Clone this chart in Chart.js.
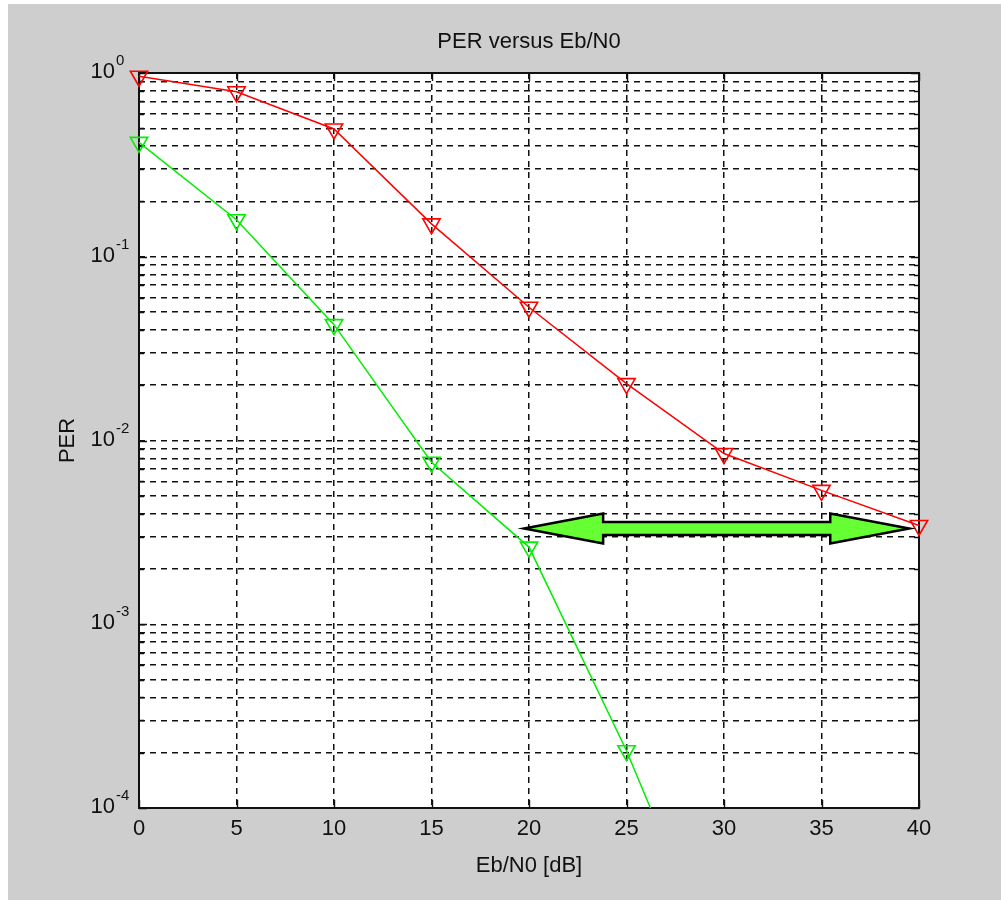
<!DOCTYPE html>
<html>
<head>
<meta charset="utf-8">
<title>PER versus Eb/N0</title>
<script src="https://cdn.jsdelivr.net/npm/chart.js@4.4.1/dist/chart.umd.min.js"></script>
<style>
  html, body { margin: 0; padding: 0; background: #fff; }
  #wrap { width: 1001px; height: 900px; }
</style>
</head>
<body>
<div id="wrap"><canvas id="chart" width="1001" height="900"></canvas></div>
<script>
// Eb/N0 [dB]
const ebn0 = [0, 5, 10, 15, 20, 25, 30, 35, 40];
const perRed = [0.96, 0.79, 0.496, 0.151, 0.0531, 0.0204, 0.00849, 0.00535, 0.00345];
// green curve leaves the axes below 1e-4 shortly after 25 dB
const ebn0Green = [0, 5, 10, 15, 20, 25, 30];
const perGreen = [0.419, 0.159, 0.0427, 0.00762, 0.00263, 0.000205, 0.000011];

// axis ticks
const xTicks = [0, 5, 10, 15, 20, 25, 30, 35, 40];
const yDecades = [1e-4, 1e-3, 1e-2, 1e-1, 1];
const yExponents = ["-4", "-3", "-2", "-1", "0"];
const yMultipliers = [1, 2, 3, 4, 5, 6, 7, 8, 9];

// double arrow between the curves (gain at PER ~ 3.3e-3)
const arrowFrom = 19.75;
const arrowTo = 39.5;
const arrowPer = 0.00332;

const yTicks = [];
yDecades.slice(0, -1).forEach((d) => {
  yMultipliers.forEach((m) => yTicks.push(+(d * m).toPrecision(3)));
});
yTicks.push(yDecades[yDecades.length - 1]);

const FONT = '"Liberation Sans", Arial, Helvetica, sans-serif';
const INK = "#111";
const FIG_BG = "#cecece";

const matlabFrame = {
  id: "matlabFrame",
  beforeDraw(chart) {
    const { ctx, chartArea: a } = chart;
    ctx.save();
    ctx.fillStyle = "#fff";
    ctx.fillRect(0, 0, chart.width, chart.height);
    ctx.fillStyle = FIG_BG;
    ctx.fillRect(8, 4, chart.width - 8, chart.height - 4);
    ctx.fillStyle = "#fff";
    ctx.fillRect(a.left, a.top, a.right - a.left, a.bottom - a.top);
    ctx.restore();
  },
  beforeDatasetsDraw(chart) {
    // axes box with inward ticks
    const { ctx, chartArea: a, scales } = chart;
    ctx.save();
    ctx.strokeStyle = INK;
    ctx.lineWidth = 1.4;
    ctx.beginPath();
    xTicks.forEach((v) => {
      const px = Math.round(scales.x.getPixelForValue(v)) + 0.5;
      ctx.moveTo(px, a.bottom);
      ctx.lineTo(px, a.bottom - 8);
      ctx.moveTo(px, a.top);
      ctx.lineTo(px, a.top + 8);
    });
    yTicks.forEach((v) => {
      const py = Math.round(scales.y.getPixelForValue(v)) + 0.5;
      const len = yDecades.includes(v) ? 8 : 5;
      ctx.moveTo(a.left, py);
      ctx.lineTo(a.left + len, py);
      ctx.moveTo(a.right, py);
      ctx.lineTo(a.right - len, py);
    });
    ctx.stroke();
    ctx.lineWidth = 2;
    ctx.strokeRect(a.left, a.top, a.right - a.left, a.bottom - a.top);
    ctx.restore();
  },
  afterDatasetsDraw(chart) {
    const { ctx, scales } = chart;
    const x1 = scales.x.getPixelForValue(arrowFrom);
    const x2 = scales.x.getPixelForValue(arrowTo);
    const y = scales.y.getPixelForValue(arrowPer);
    const head = 79;
    const headHalf = 15;
    const shaftHalf = 6.5;
    ctx.save();
    ctx.beginPath();
    ctx.moveTo(x1, y);
    ctx.lineTo(x1 + head, y - headHalf);
    ctx.lineTo(x1 + head, y - shaftHalf);
    ctx.lineTo(x2 - head, y - shaftHalf);
    ctx.lineTo(x2 - head, y - headHalf);
    ctx.lineTo(x2, y);
    ctx.lineTo(x2 - head, y + headHalf);
    ctx.lineTo(x2 - head, y + shaftHalf);
    ctx.lineTo(x1 + head, y + shaftHalf);
    ctx.lineTo(x1 + head, y + headHalf);
    ctx.closePath();
    ctx.fillStyle = "#66ff33";
    ctx.fill();
    ctx.lineWidth = 2.5;
    ctx.lineJoin = "miter";
    ctx.strokeStyle = "#000";
    ctx.stroke();
    ctx.restore();
  },
  afterDraw(chart) {
    const { ctx, chartArea: a, scales } = chart;
    ctx.save();
    ctx.fillStyle = INK;
    // title
    ctx.font = "22px " + FONT;
    ctx.textAlign = "center";
    ctx.textBaseline = "middle";
    ctx.fillText("PER versus Eb/N0", (a.left + a.right) / 2, 42);
    // y labels as 10^n
    yDecades.forEach((v, i) => {
      const py = scales.y.getPixelForValue(v);
      ctx.font = "22px " + FONT;
      ctx.textAlign = "right";
      ctx.fillText("10", 115, py - 1);
      ctx.font = "15px " + FONT;
      ctx.textAlign = "left";
      ctx.fillText(yExponents[i], 116, py - 12);
    });
    ctx.restore();
  },
};

const gridOpts = { color: INK, lineWidth: 1.5, drawTicks: false };
const borderOpts = { display: false, dash: [6, 5] };
const clipArea = { left: 15, top: 15, right: 15, bottom: 0 };

function series(xs, ys, color) {
  return {
    data: xs.map((x, i) => ({ x, y: ys[i] })),
    borderColor: color,
    borderWidth: 1.5,
    pointStyle: "triangle",
    rotation: 180,
    pointRadius: 10,
    pointBackgroundColor: "rgba(0,0,0,0)",
    pointBorderColor: color,
    pointBorderWidth: 1.6,
    tension: 0,
    clip: clipArea,
  };
}

new Chart(document.getElementById("chart"), {
  type: "line",
  data: {
    datasets: [series(ebn0, perRed, "#ff0000"), series(ebn0Green, perGreen, "#00ee00")],
  },
  options: {
    responsive: false,
    animation: false,
    layout: { padding: { top: 73, right: 82, bottom: 0, left: 0 } },
    plugins: {
      legend: { display: false },
      title: { display: false },
      tooltip: { enabled: false },
    },
    scales: {
      x: {
        type: "linear",
        min: 0,
        max: 40,
        afterBuildTicks: (s) => {
          s.ticks = xTicks.map((v) => ({ value: v }));
        },
        afterFit: (s) => {
          s.height = 92;
        },
        grid: gridOpts,
        border: borderOpts,
        ticks: { color: INK, font: { family: FONT, size: 22 }, padding: 8, maxRotation: 0, autoSkip: false },
        title: {
          display: true,
          text: "Eb/N0 [dB]",
          color: INK,
          font: { family: FONT, size: 22 },
          padding: { top: 0, bottom: 21 },
        },
      },
      y: {
        type: "logarithmic",
        min: 1e-4,
        max: 1,
        afterBuildTicks: (s) => {
          s.ticks = yTicks.map((v) => ({ value: v, major: yDecades.includes(v) }));
        },
        afterFit: (s) => {
          s.width = 139;
        },
        grid: gridOpts,
        border: borderOpts,
        ticks: { display: false },
        title: {
          display: true,
          text: "PER",
          color: INK,
          font: { family: FONT, size: 22 },
          padding: { top: 55, bottom: 0 },
        },
      },
    },
  },
  plugins: [matlabFrame],
});
</script>
</body>
</html>
